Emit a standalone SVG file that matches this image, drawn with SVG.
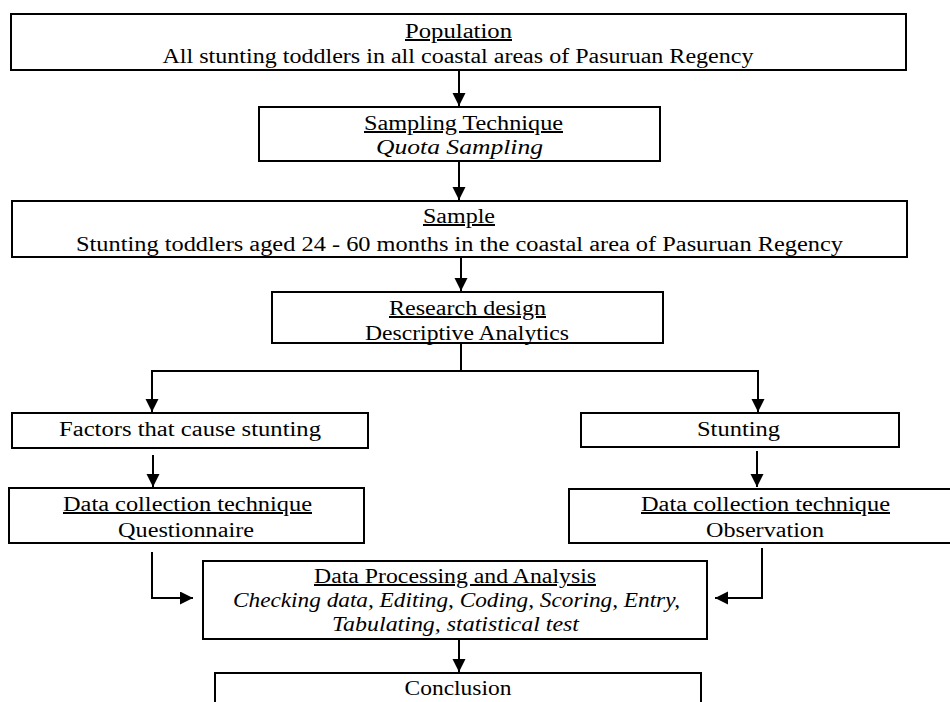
<svg xmlns="http://www.w3.org/2000/svg" width="950" height="702" viewBox="0 0 950 702">
<defs>
<style>
.box{fill:#fff;stroke:#000;stroke-width:2}
.t{font-family:"Liberation Serif","Times New Roman",serif;font-size:20px;fill:#000;text-anchor:middle}
.u{text-decoration:underline}
.i{font-style:italic}
.c{fill:none;stroke:#000;stroke-width:2}
</style>
<marker id="ah" markerUnits="userSpaceOnUse" markerWidth="14" markerHeight="14" refX="13" refY="6.5" orient="auto">
<path d="M0,0 L13,6.5 L0,13 z" fill="#000"/>
</marker>
</defs>
<rect width="950" height="702" fill="#fff"/>
<g id="connectors">
<path class="c" d="M459,70 V106" marker-end="url(#ah)"/>
<path class="c" d="M459,161 V200" marker-end="url(#ah)"/>
<path class="c" d="M461,257 V291" marker-end="url(#ah)"/>
<path class="c" d="M461,344 V371"/>
<path class="c" d="M151,371 H759"/>
<path class="c" d="M152,371 V412" marker-end="url(#ah)"/>
<path class="c" d="M758,371 V412" marker-end="url(#ah)"/>
<path class="c" d="M153,455 V487" marker-end="url(#ah)"/>
<path class="c" d="M757,451 V487" marker-end="url(#ah)"/>
<path class="c" d="M152,552 V598 H193" marker-end="url(#ah)"/>
<path class="c" d="M762,548 V598 H715" marker-end="url(#ah)"/>
<path class="c" d="M459,639 V672" marker-end="url(#ah)"/>
</g>
<g id="population">
<rect class="box" x="11" y="14" width="895" height="56"/>
<text class="t u" x="458.5" y="38" textLength="107" lengthAdjust="spacingAndGlyphs">Population</text>
<text class="t" x="458" y="63" textLength="591" lengthAdjust="spacingAndGlyphs">All stunting toddlers in all coastal areas of Pasuruan Regency</text>
</g>
<g id="sampling">
<rect class="box" x="259" y="107" width="401" height="54"/>
<text class="t u" x="463.5" y="130" textLength="199" lengthAdjust="spacingAndGlyphs">Sampling Technique</text>
<text class="t i" x="459.5" y="154" textLength="167" lengthAdjust="spacingAndGlyphs">Quota Sampling</text>
</g>
<g id="sample">
<rect class="box" x="12" y="201" width="895" height="56"/>
<text class="t u" x="459" y="223" textLength="72" lengthAdjust="spacingAndGlyphs">Sample</text>
<text class="t" x="459.5" y="251" textLength="767" lengthAdjust="spacingAndGlyphs">Stunting toddlers aged 24 - 60 months in the coastal area of Pasuruan Regency</text>
</g>
<g id="research">
<rect class="box" x="272" y="292" width="391" height="51"/>
<text class="t u" x="467.5" y="315" textLength="157" lengthAdjust="spacingAndGlyphs">Research design</text>
<text class="t" x="467" y="340" textLength="204" lengthAdjust="spacingAndGlyphs">Descriptive Analytics</text>
</g>
<g id="factors">
<rect class="box" x="12" y="413" width="356" height="35"/>
<text class="t" x="190" y="436" textLength="262" lengthAdjust="spacingAndGlyphs">Factors that cause stunting</text>
</g>
<g id="stunting">
<rect class="box" x="581" y="413" width="318" height="34"/>
<text class="t" x="738.5" y="436" textLength="83" lengthAdjust="spacingAndGlyphs">Stunting</text>
</g>
<g id="dc-left">
<rect class="box" x="9" y="488" width="355" height="55"/>
<text class="t u" x="187.5" y="511" textLength="249" lengthAdjust="spacingAndGlyphs">Data collection technique</text>
<text class="t" x="186" y="537" textLength="136" lengthAdjust="spacingAndGlyphs">Questionnaire</text>
</g>
<g id="dc-right">
<rect class="box" x="569" y="489" width="392" height="54"/>
<text class="t u" x="765.5" y="511" textLength="249" lengthAdjust="spacingAndGlyphs">Data collection technique</text>
<text class="t" x="765" y="537" textLength="118" lengthAdjust="spacingAndGlyphs">Observation</text>
</g>
<g id="processing">
<rect class="box" x="203" y="561" width="504" height="78"/>
<text class="t u" x="455" y="583" textLength="282" lengthAdjust="spacingAndGlyphs">Data Processing and Analysis</text>
<text class="t i" x="456.5" y="607" textLength="447" lengthAdjust="spacingAndGlyphs">Checking data, Editing, Coding, Scoring, Entry,</text>
<text class="t i" x="455.5" y="631" textLength="247" lengthAdjust="spacingAndGlyphs">Tabulating, statistical test</text>
</g>
<g id="conclusion">
<rect class="box" x="215" y="673" width="486" height="40"/>
<text class="t" x="458" y="695" textLength="107" lengthAdjust="spacingAndGlyphs">Conclusion</text>
</g>
</svg>
